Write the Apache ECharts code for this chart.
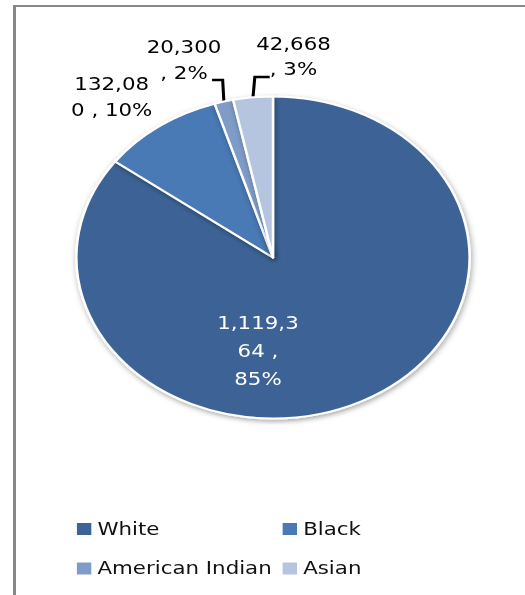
<!DOCTYPE html>
<html>
<head>
<meta charset="utf-8">
<script src="https://cdn.jsdelivr.net/npm/echarts@6/dist/echarts.min.js"></script>
<style>
  html, body { margin: 0; padding: 0; background: #fff; overflow: hidden; }
  #stage { width: 525px; height: 595px; overflow: hidden; position: relative; background: #fff; }
  /* chart frame: only its top and left edges fall inside the page */
  .edge { position: absolute; background: #878787; }
  #edgeTop { left: 13.3px; top: 4.7px; width: 520px; height: 2.7px; }
  #edgeLeft { left: 13.3px; top: 4.7px; width: 2.7px; height: 600px; }
  /* the chart is laid out narrower and stretched sideways, so the pie reads as an ellipse */
  #chart {
    position: absolute; left: 0; top: 0;
    width: 430px; height: 595px; transform: scaleX(1.2209); transform-origin: 0 0;
  }
</style>
</head>
<body>
<div id="stage">
  <div class="edge" id="edgeTop"></div>
  <div class="edge" id="edgeLeft"></div>
  <div id="chart"></div>
</div>
<script>
// Population by race
const categories = ['White', 'Black', 'American Indian', 'Asian'];
const population = [1119364, 132080, 20300, 42668];

// character positions where each data label wraps to a new line
const labelBreaks = [[7, 11], [6], [6], [6]];

// where each data label sits, and the elbow/tail of its leader line
const labelSpots = [
  { x: 211.3, y: 351, lineHeight: 28 },
  { x: 91.5, y: 97.2, lineHeight: 25.5 },
  { x: 150.7, y: 60, lineHeight: 26.5, elbow: [-1, -21.6], tail: -8.7 },
  { x: 240.4, y: 56.5, lineHeight: 24.5, elbow: [1.5, -20.3], tail: 12.2 }
];

function wrapLabel(text, cuts) {
  const lines = [];
  let from = 0;
  cuts.forEach(function (c) { lines.push(text.slice(from, c).trim()); from = c; });
  lines.push(text.slice(from).trim());
  return lines.join('\n');
}

const chart = echarts.init(document.getElementById('chart'), null, { renderer: 'svg' });

const legendText = {
  fontFamily: 'DejaVu Sans', fontSize: 17.5, lineHeight: 18, color: '#111'
};
const legendIconStyle = { borderWidth: 0, shadowBlur: 0, shadowOffsetX: 0, shadowOffsetY: 0 };

chart.setOption({
  animation: false,
  color: ['#3C6496', '#4A7AB5', '#7F9CC9', '#B5C5DF'],
  legend: [
    {
      data: [categories[0], categories[2]],
      orient: 'vertical', left: 63, top: 520, padding: 0,
      itemWidth: 11.8, itemHeight: 12, itemGap: 21.5, icon: 'rect',
      selectedMode: false,
      itemStyle: legendIconStyle,
      textStyle: legendText
    },
    {
      data: [categories[1], categories[3]],
      orient: 'vertical', left: 231.5, top: 520, padding: 0,
      itemWidth: 11.8, itemHeight: 12, itemGap: 21.5, icon: 'rect',
      selectedMode: false,
      itemStyle: legendIconStyle,
      textStyle: legendText
    }
  ],
  series: [{
    type: 'pie',
    center: [223.6, 257.5],
    radius: 161,
    startAngle: 90,
    clockwise: true,
    avoidLabelOverlap: false,
    emphasis: { disabled: true },
    itemStyle: {
      borderColor: '#ffffff',
      borderWidth: 2,
      shadowBlur: 5,
      shadowOffsetX: 1,
      shadowOffsetY: 2,
      shadowColor: 'rgba(0,0,0,0.35)'
    },
    label: {
      show: true,
      position: 'outside',
      color: '#000',
      fontFamily: 'DejaVu Sans',
      fontSize: 17.5,
      align: 'center',
      formatter: function (p) {
        const text = echarts.format.addCommas(p.value) + ' , ' + Math.round(p.percent) + '%';
        return wrapLabel(text, labelBreaks[p.dataIndex]);
      }
    },
    labelLine: {
      show: true,
      length: 20,
      length2: 10,
      smooth: false,
      lineStyle: { color: '#000', width: 2.5 }
    },
    labelLayout: function (params) {
      const spot = labelSpots[params.dataIndex];
      const out = { x: spot.x, y: spot.y, align: 'center', verticalAlign: 'middle' };
      const pts = params.labelLinePoints;
      if (spot.elbow && pts) {
        const start = pts[0];
        const elbow = [start[0] + spot.elbow[0], start[1] + spot.elbow[1]];
        out.labelLinePoints = [start, elbow, [elbow[0] + spot.tail, elbow[1]]];
      }
      return out;
    },
    data: categories.map(function (name, i) {
      const item = {
        name: name,
        value: population[i],
        label: { lineHeight: labelSpots[i].lineHeight }
      };
      if (i === 0) {
        item.label.position = 'inside';
        item.label.color = '#ffffff';
      }
      if (i < 2) item.labelLine = { show: false };
      return item;
    })
  }]
});
</script>
</body>
</html>
